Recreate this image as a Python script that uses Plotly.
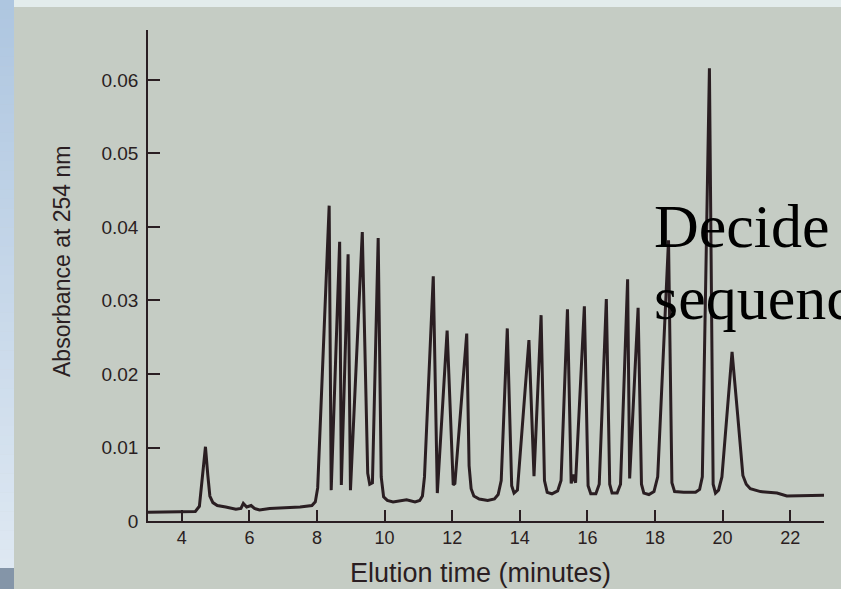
import plotly.graph_objects as go

# ---- data ----
elution_min = [3.0, 3.5, 4.0, 4.4, 4.52, 4.60, 4.70, 4.77, 4.83, 4.92, 5.05, 5.3, 5.6, 5.75, 5.82,
               5.92, 6.05, 6.15, 6.3, 6.6, 7.0, 7.5, 7.85, 7.95, 8.02,
               8.36, 8.42, 8.67, 8.72, 8.92, 8.99, 9.34, 9.50, 9.56, 9.64, 9.81, 9.90, 9.97,
               10.08, 10.25, 10.65, 10.9, 11.04, 11.12, 11.18, 11.44, 11.56, 11.85, 12.03,
               12.08, 12.43, 12.50, 12.56, 12.64, 12.80, 13.05, 13.25, 13.36, 13.45,
               13.63, 13.76, 13.83, 13.93, 14.27, 14.42, 14.63, 14.73, 14.81, 14.95,
               15.12, 15.22, 15.41, 15.52, 15.58, 15.65, 15.91, 16.02, 16.10, 16.25, 16.35,
               16.56, 16.66, 16.73, 16.88, 16.98, 17.19, 17.25, 17.50, 17.60, 17.67, 17.82,
               17.97, 18.08, 18.40, 18.50, 18.58, 18.85, 19.20, 19.32, 19.40, 19.61, 19.72,
               19.79, 19.88, 19.98, 20.28, 20.45, 20.60, 20.70, 20.82, 21.12, 21.61,
               21.90, 23.0]
absorbance = [0.0012, 0.0012, 0.0012, 0.0013, 0.0020, 0.0055, 0.0101, 0.0062, 0.0034, 0.0025,
              0.0021, 0.0019, 0.0016, 0.0017, 0.0024, 0.0019, 0.0021, 0.0017, 0.0015, 0.0017,
              0.0018, 0.0019, 0.0021, 0.0026, 0.0045,
              0.0429, 0.0042, 0.0380, 0.0049, 0.0363, 0.0042, 0.0393, 0.0065, 0.0050, 0.0052,
              0.0385, 0.0060, 0.0033, 0.0028, 0.0026, 0.0029, 0.0026, 0.0028, 0.0034, 0.0060,
              0.0333, 0.0038, 0.0259, 0.0049, 0.0051, 0.0255, 0.0075, 0.0044, 0.0034, 0.0030,
              0.0028, 0.0030, 0.0036, 0.0055, 0.0262, 0.0048, 0.0038, 0.0042, 0.0246, 0.0061,
              0.0280, 0.0055, 0.0039, 0.0037, 0.0041, 0.0055, 0.0288, 0.0051, 0.0063, 0.0052,
              0.0292, 0.0048, 0.0037, 0.0037, 0.0050, 0.0302, 0.0050, 0.0038, 0.0038, 0.0050,
              0.0329, 0.0058, 0.0290, 0.0050, 0.0038, 0.0036, 0.0040, 0.0060, 0.0382, 0.0052,
              0.0040, 0.0039, 0.0039, 0.0043, 0.0060, 0.0616, 0.0050, 0.0038, 0.0042, 0.0060,
              0.0230, 0.0142, 0.0062, 0.0050, 0.0044, 0.0040, 0.0038, 0.0034, 0.0035]
x_ticks = [4, 6, 8, 10, 12, 14, 16, 18, 20, 22]
y_ticks = [0, 0.01, 0.02, 0.03, 0.04, 0.05, 0.06]
y_tick_text = ["0", "0.01", "0.02", "0.03", "0.04", "0.05", "0.06"]

# ---- layout geometry (pixels) ----
W, H = 841, 589
ML, MR, MT, MB = 148, 17, 30, 68
PW, PH = W - ML - MR, H - MT - MB


def px(xp):
    return (xp - ML) / PW


def py(yp):
    return (H - MB - yp) / PH


INK = "#2a1e22"
BG = "#c5ccc4"

fig = go.Figure()
fig.add_trace(go.Scatter(x=elution_min, y=absorbance, mode="lines",
                         line=dict(color=INK, width=3), hoverinfo="skip",
                         showlegend=False, cliponaxis=False))

shapes = []
# top light band
shapes.append(dict(type="rect", xref="paper", yref="paper", x0=px(14), x1=px(W), y0=py(7), y1=py(0),
                   fillcolor="#e3ecec", line=dict(width=0), layer="above"))
# left blue strip (smooth gradient approximated with thin bands)
top_c = (174, 198, 224)
bot_c = (222, 232, 242)
nb = 60
y_start, y_end = 0, 568
for i in range(nb):
    t = i / (nb - 1)
    c = tuple(int(round(top_c[k] + (bot_c[k] - top_c[k]) * t)) for k in range(3))
    ya = y_start + (y_end - y_start) * i / nb
    yb = y_start + (y_end - y_start) * (i + 1) / nb + 0.5
    shapes.append(dict(type="rect", xref="paper", yref="paper", x0=px(0), x1=px(14),
                       y0=py(yb), y1=py(ya), fillcolor="rgb(%d,%d,%d)" % c,
                       line=dict(width=0), layer="above"))
shapes.append(dict(type="rect", xref="paper", yref="paper", x0=px(0), x1=px(14), y0=py(H), y1=py(568),
                   fillcolor="#8495a8", line=dict(width=0), layer="above"))

SANS = "Liberation Sans, Arial, sans-serif"
SERIF = "Liberation Serif, Times New Roman, serif"
annotations = [
    dict(text="Elution time (minutes)", xref="paper", yref="paper", x=px(480), y=py(573),
         xanchor="center", yanchor="middle", showarrow=False,
         font=dict(family=SANS, size=27, color=INK)),
    dict(text="Absorbance at 254 nm", xref="paper", yref="paper", x=px(62), y=py(261),
         xanchor="center", yanchor="middle", showarrow=False, textangle=-90,
         font=dict(family=SANS, size=23, color=INK)),
    dict(text="Decide", xref="paper", yref="paper", x=px(652), y=py(226),
         xanchor="left", yanchor="middle", align="left", showarrow=False,
         font=dict(family=SERIF, size=62, color="#000000")),
    dict(text="sequence", xref="paper", yref="paper", x=px(652), y=py(298),
         xanchor="left", yanchor="middle", align="left", showarrow=False,
         font=dict(family=SERIF, size=62, color="#000000")),
]

fig.update_layout(
    width=W, height=H,
    margin=dict(l=ML, r=MR, t=MT, b=MB, pad=0),
    paper_bgcolor=BG, plot_bgcolor=BG,
    shapes=shapes, annotations=annotations,
    showlegend=False,
    xaxis=dict(range=[3, 23], showgrid=False, zeroline=False, showline=True,
               linecolor=INK, linewidth=1.5, ticks="inside", ticklen=11, tickwidth=1.5,
               tickcolor=INK, tickvals=x_ticks, ticklabelstandoff=0,
               tickfont=dict(family=SANS, size=18, color=INK)),
    yaxis=dict(range=[0, 0.0668], showgrid=False, zeroline=False, showline=True,
               linecolor=INK, linewidth=1.5, ticks="inside", ticklen=12, tickwidth=1.5,
               tickcolor=INK, tickvals=y_ticks, ticktext=y_tick_text, ticklabelstandoff=4,
               tickfont=dict(family=SANS, size=19, color=INK)),
)

fig.write_html("out.html")
